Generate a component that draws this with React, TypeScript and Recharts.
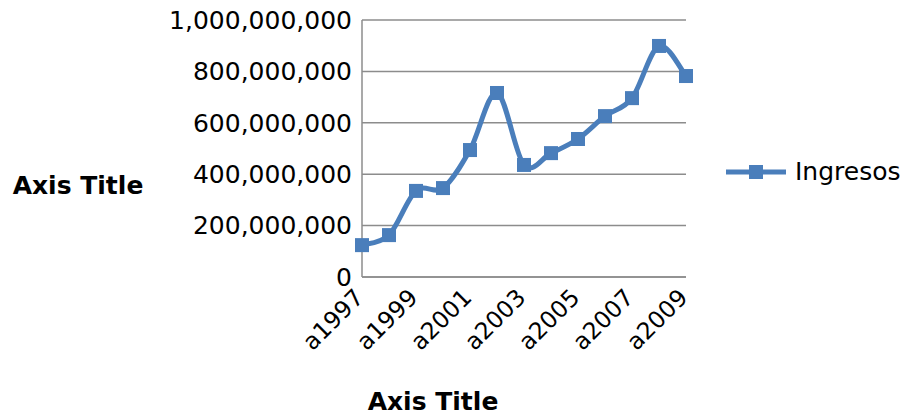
import React from 'react';
import { LineChart, Line, XAxis, YAxis, CartesianGrid, Legend } from 'recharts';

const categories = ['a1997', 'a1998', 'a1999', 'a2000', 'a2001', 'a2002', 'a2003', 'a2004', 'a2005', 'a2006', 'a2007', 'a2008', 'a2009'];
const ingresos = [124000000, 163000000, 335000000, 346000000, 494000000, 716000000, 436000000, 482000000, 537000000, 626000000, 696000000, 899000000, 782000000];
const yTicks = [0, 200000000, 400000000, 600000000, 800000000, 1000000000];
const seriesName = 'Ingresos';
const axisTitle = 'Axis Title';

const data = categories.map((c, i) => ({ name: c, value: ingresos[i] }));

const COLOR = '#4a7ebb';
const GRID = '#8c8c8c';
const FONT = '"DejaVu Sans", sans-serif';
const FS = 25;
const XFS = 23.5;

// Smooth curve similar to Excel smoothing (Catmull-Rom style Bezier)
function smoothCurve(context: any) {
  let pts: number[][] = [];
  return {
    areaStart() {},
    areaEnd() {},
    lineStart() { pts = []; },
    point(x: number, y: number) { pts.push([+x, +y]); },
    lineEnd() {
      if (!pts.length) return;
      context.moveTo(pts[0][0], pts[0][1]);
      const t = 1 / 6;
      for (let i = 0; i < pts.length - 1; i++) {
        const p0 = pts[i - 1] || pts[i];
        const p1 = pts[i];
        const p2 = pts[i + 1];
        const p3 = pts[i + 2] || p2;
        context.bezierCurveTo(
          p1[0] + (p2[0] - p0[0]) * t, p1[1] + (p2[1] - p0[1]) * t,
          p2[0] - (p3[0] - p1[0]) * t, p2[1] - (p3[1] - p1[1]) * t,
          p2[0], p2[1]
        );
      }
    },
  };
}

const SquareDot = (props: any) => {
  const { cx, cy } = props;
  if (cx == null || cy == null) return null;
  return <rect x={cx - 7} y={cy - 7} width={14} height={14} fill={COLOR} />;
};

const XTick = (props: any) => {
  const { x, payload } = props;
  return (
    <g transform={`translate(${x + 3},${299}) rotate(-45)`}>
      <text x={0} y={0} textAnchor="end" fill="#000" fontSize={XFS} fontFamily={FONT}>
        {payload.value}
      </text>
    </g>
  );
};

const LegendContent = () => (
  <div style={{ display: 'flex', alignItems: 'center', fontFamily: FONT, fontSize: FS, color: '#000' }}>
    <svg width={62} height={20} style={{ marginRight: 7 }}>
      <line x1={0} y1={10} x2={60} y2={10} stroke={COLOR} strokeWidth={5} />
      <rect x={23} y={3} width={14} height={14} fill={COLOR} />
    </svg>
    <span>{seriesName}</span>
  </div>
);

export default function App() {
  return (
    <div style={{ position: 'absolute', left: 0, top: 0, width: 906, height: 416, background: '#fff' }}>
      <LineChart
        width={906}
        height={416}
        data={data}
        margin={{ top: 20, right: 220, bottom: 0, left: 0 }}
        style={{ fontFamily: FONT }}
      >
        <CartesianGrid vertical={false} stroke={GRID} strokeWidth={1.5} />
        <XAxis
          dataKey="name"
          interval={1}
          height={139}
          tickLine={false}
          axisLine={{ stroke: GRID, strokeWidth: 1.5 }}
          tick={<XTick />}
          label={{
            value: axisTitle,
            content: (p: any) => {
              const vb = p.viewBox;
              return (
                <text x={433} y={vb.y + vb.height - 6} textAnchor="middle" fontWeight="bold" fontSize={FS} fontFamily={FONT} fill="#000">
                  {axisTitle}
                </text>
              );
            },
          }}
        />
        <YAxis
          width={362}
          domain={[0, 1000000000]}
          ticks={yTicks}
          tickLine={false}
          tickMargin={4}
          axisLine={{ stroke: GRID, strokeWidth: 1.5 }}
          tick={{ fill: '#000', fontSize: FS, fontFamily: FONT }}
          tickFormatter={(v: number) => v.toLocaleString('en-US')}
          label={{
            value: axisTitle,
            content: () => (
              <text x={78} y={194} textAnchor="middle" fontWeight="bold" fontSize={FS} fontFamily={FONT} fill="#000">
                {axisTitle}
              </text>
            ),
          }}
        />
        <Legend
          layout="horizontal"
          verticalAlign="middle"
          align="center"
          wrapperStyle={{ left: 726, top: 157, width: 180 }}
          content={<LegendContent />}
        />
        <Line
          dataKey="value"
          name={seriesName}
          type={smoothCurve as any}
          stroke={COLOR}
          strokeWidth={5}
          dot={<SquareDot />}
          activeDot={false}
          isAnimationActive={false}
        />
      </LineChart>
    </div>
  );
}
